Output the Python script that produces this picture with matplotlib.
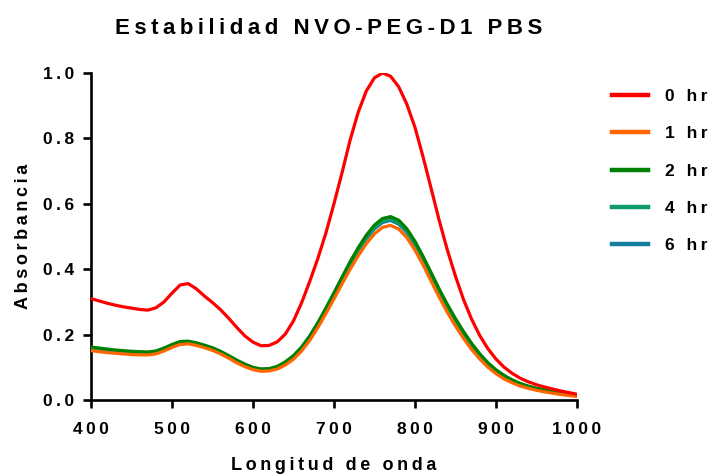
import matplotlib
matplotlib.use("Agg")
import matplotlib.pyplot as plt

plt.rcParams['font.family'] = ['Liberation Sans', 'DejaVu Sans']
plt.rcParams['font.weight'] = 'bold'

# wavelength grid (nm)
wavelength = list(range(400, 1001, 10))

abs_0hr = [0.310, 0.303, 0.296, 0.290, 0.285, 0.281, 0.277, 0.275, 0.282, 0.300,
           0.327, 0.352, 0.356, 0.340, 0.318, 0.298, 0.276, 0.250, 0.222, 0.196,
           0.177, 0.166, 0.167, 0.178, 0.202, 0.242, 0.297, 0.362, 0.432, 0.510,
           0.600, 0.695, 0.795, 0.880, 0.945, 0.985, 1.000, 0.990, 0.958, 0.905,
           0.835, 0.745, 0.648, 0.550, 0.460, 0.380, 0.308, 0.248, 0.198, 0.158,
           0.126, 0.101, 0.082, 0.067, 0.056, 0.047, 0.040, 0.034, 0.028, 0.023,
           0.018]

abs_1hr = [0.151, 0.148, 0.145, 0.143, 0.141, 0.139, 0.138, 0.138, 0.141, 0.150,
           0.161, 0.170, 0.172, 0.167, 0.160, 0.152, 0.141, 0.128, 0.114, 0.102,
           0.093, 0.088, 0.089, 0.095, 0.107, 0.125, 0.150, 0.182, 0.221, 0.264,
           0.309, 0.355, 0.400, 0.441, 0.478, 0.508, 0.528, 0.534, 0.523, 0.497,
           0.459, 0.414, 0.364, 0.315, 0.269, 0.227, 0.189, 0.155, 0.126, 0.101,
           0.081, 0.065, 0.053, 0.043, 0.036, 0.030, 0.025, 0.021, 0.017, 0.014,
           0.011]

abs_2hr = [0.162, 0.159, 0.156, 0.153, 0.151, 0.149, 0.148, 0.147, 0.150, 0.159,
           0.170, 0.179, 0.180, 0.175, 0.168, 0.160, 0.149, 0.136, 0.122, 0.110,
           0.100, 0.095, 0.096, 0.103, 0.117, 0.136, 0.162, 0.196, 0.236, 0.281,
           0.328, 0.376, 0.423, 0.466, 0.504, 0.535, 0.555, 0.561, 0.550, 0.524,
           0.486, 0.440, 0.390, 0.340, 0.293, 0.250, 0.210, 0.174, 0.142, 0.115,
           0.093, 0.076, 0.062, 0.051, 0.043, 0.036, 0.031, 0.026, 0.022, 0.019,
           0.016]

abs_4hr = [0.158, 0.155, 0.152, 0.149, 0.147, 0.145, 0.144, 0.143, 0.146, 0.155,
           0.166, 0.175, 0.177, 0.172, 0.165, 0.157, 0.146, 0.133, 0.119, 0.107,
           0.098, 0.094, 0.095, 0.101, 0.114, 0.133, 0.159, 0.192, 0.232, 0.276,
           0.323, 0.370, 0.417, 0.459, 0.497, 0.527, 0.547, 0.553, 0.542, 0.516,
           0.478, 0.432, 0.382, 0.333, 0.286, 0.243, 0.204, 0.169, 0.138, 0.112,
           0.090, 0.073, 0.060, 0.049, 0.041, 0.035, 0.030, 0.025, 0.021, 0.018,
           0.015]

abs_6hr = [0.157, 0.154, 0.151, 0.148, 0.146, 0.144, 0.143, 0.142, 0.145, 0.154,
           0.165, 0.174, 0.176, 0.171, 0.164, 0.156, 0.145, 0.132, 0.118, 0.106,
           0.097, 0.093, 0.094, 0.100, 0.113, 0.132, 0.157, 0.190, 0.230, 0.274,
           0.320, 0.367, 0.413, 0.455, 0.493, 0.523, 0.543, 0.549, 0.538, 0.512,
           0.474, 0.429, 0.379, 0.330, 0.283, 0.240, 0.201, 0.166, 0.136, 0.110,
           0.089, 0.072, 0.059, 0.048, 0.040, 0.034, 0.029, 0.024, 0.020, 0.017,
           0.014]

labels = ["0 hr", "1 hr", "2 hr", "4 hr", "6 hr"]
colors = ["#ff0000", "#ff6600", "#008000", "#0f9a6a", "#137e9e"]
series = [abs_0hr, abs_1hr, abs_2hr, abs_4hr, abs_6hr]

x_ticks = [400, 500, 600, 700, 800, 900, 1000]
y_ticks = [0.0, 0.2, 0.4, 0.6, 0.8, 1.0]


def spaced(s):
    # wide tracking like the original graph software
    return "\u2009".join(s)


fig = plt.figure(figsize=(7.12, 4.74), dpi=100)
ax = fig.add_axes([0.128, 0.156, 0.682, 0.690])

lines = []
for vals, lab, col, z in zip(series, labels, colors, [6, 5, 4, 3, 2]):
    ln, = ax.plot(wavelength, vals, color=col, lw=2.3, label=spaced(lab), zorder=z,
                  solid_joinstyle="round")
    lines.append(ln)

ax.set_xlim(400, 1000)
ax.set_ylim(0, 1.0)
ax.set_xticks(x_ticks)
ax.set_xticklabels([spaced(str(t)) for t in x_ticks])
ax.set_yticks(y_ticks)
ax.set_yticklabels([spaced(f"{t:.1f}") for t in y_ticks])

for side in ["top", "right"]:
    ax.spines[side].set_visible(False)
for side in ["left", "bottom"]:
    ax.spines[side].set_linewidth(1.9)
ax.tick_params(width=1.9, length=6, labelsize=12.5)
ax.tick_params(axis="x", pad=10)
ax.tick_params(axis="y", pad=6)
for lbl in ax.get_xticklabels() + ax.get_yticklabels():
    lbl.set_fontweight("bold")

ax.set_xlabel(spaced("Longitud de onda"), fontsize=13, fontweight="bold", labelpad=14)
ax.set_ylabel(spaced("Absorbancia"), fontsize=13, fontweight="bold", labelpad=8)
fig.text(0.462, 0.940, spaced("Estabilidad NVO-PEG-D1 PBS"), fontsize=16,
         fontweight="bold", ha="center", va="center")

leg = fig.legend(handles=lines, loc="upper left", bbox_to_anchor=(0.859, 0.812),
                 frameon=False, fontsize=12.5, handlelength=2.1, handletextpad=1.0,
                 labelspacing=1.27, borderpad=0, borderaxespad=0)
for h in leg.legend_handles:
    h.set_linewidth(3.2)

fig.savefig("out.png", dpi=100)
